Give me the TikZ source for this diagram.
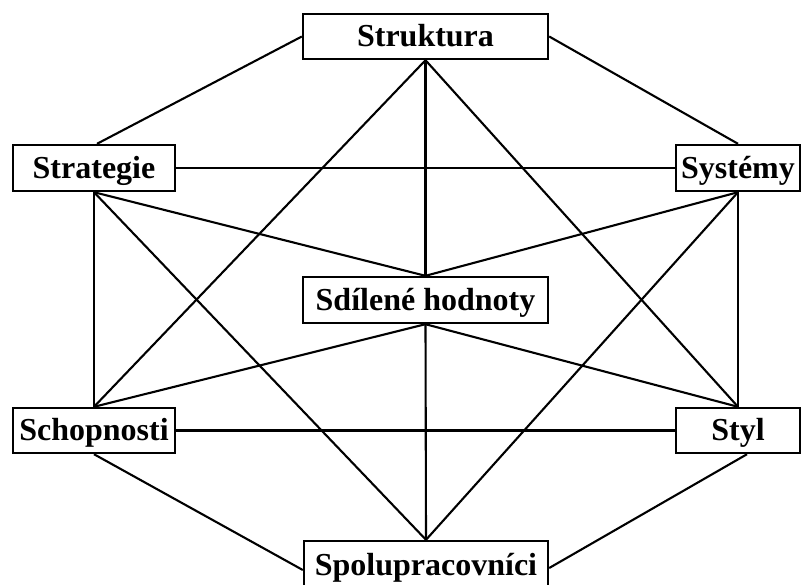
\documentclass[tikz,border=0pt]{standalone}
\usepackage{fontspec}
\setmainfont{Liberation Serif}
\begin{document}
\begin{tikzpicture}[x=1pt,y=-1pt,
  box/.style={draw=black,line width=2.4pt,fill=white,inner sep=0pt,
    font=\fontsize{32}{36}\selectfont\bfseries,text height=20pt,text depth=0pt},
  link/.style={line width=2.1pt,black}]
\useasboundingbox (0,0) rectangle (802,584);
\node[box,minimum width=245pt,minimum height=45pt] (struk) at (425.5,36.5) {Struktura};
\node[box,minimum width=162pt,minimum height=46pt] (strat) at (94,168) {Strategie};
\node[box,minimum width=124pt,minimum height=46pt] (syst) at (738,168) {Systémy};
\node[box,minimum width=245pt,minimum height=46pt] (sdil) at (425.5,300) {Sdílené hodnoty};
\node[box,minimum width=162pt,minimum height=45pt] (schop) at (94,430.5) {Schopnosti};
\node[box,minimum width=124pt,minimum height=45pt] (styl) at (738,430.5) {Styl};
\node[box,minimum width=244pt,minimum height=48pt] (spol) at (426,565) {Spolupracovníci};
\draw[link] (struk.west) -- ([xshift=3pt]strat.north);
\draw[link] (struk.east) -- (syst.north);
\draw[link] (strat.east) -- (syst.west);
\draw[link] (schop.east) -- (styl.west);
\draw[link] (struk.south) -- (schop.north);
\draw[link] (struk.south) -- (sdil.north);
\draw[link] (struk.south) -- (styl.north);
\draw[link] (strat.south) -- (schop.north);
\draw[link] (strat.south) -- (sdil.north);
\draw[link] (strat.south) -- (spol.north);
\draw[link] (syst.south) -- (sdil.north);
\draw[link] (syst.south) -- (spol.north);
\draw[link] (syst.south) -- (styl.north);
\draw[link] (sdil.south) -- (schop.north);
\draw[link] (sdil.south) -- (styl.north);
\draw[link] (sdil.south) -- (spol.north);
\draw[link] (schop.south) -- ([yshift=-5pt]spol.west);
\draw[link] ([xshift=9pt]styl.south) -- ([yshift=-3pt]spol.east);
\end{tikzpicture}
\end{document}
